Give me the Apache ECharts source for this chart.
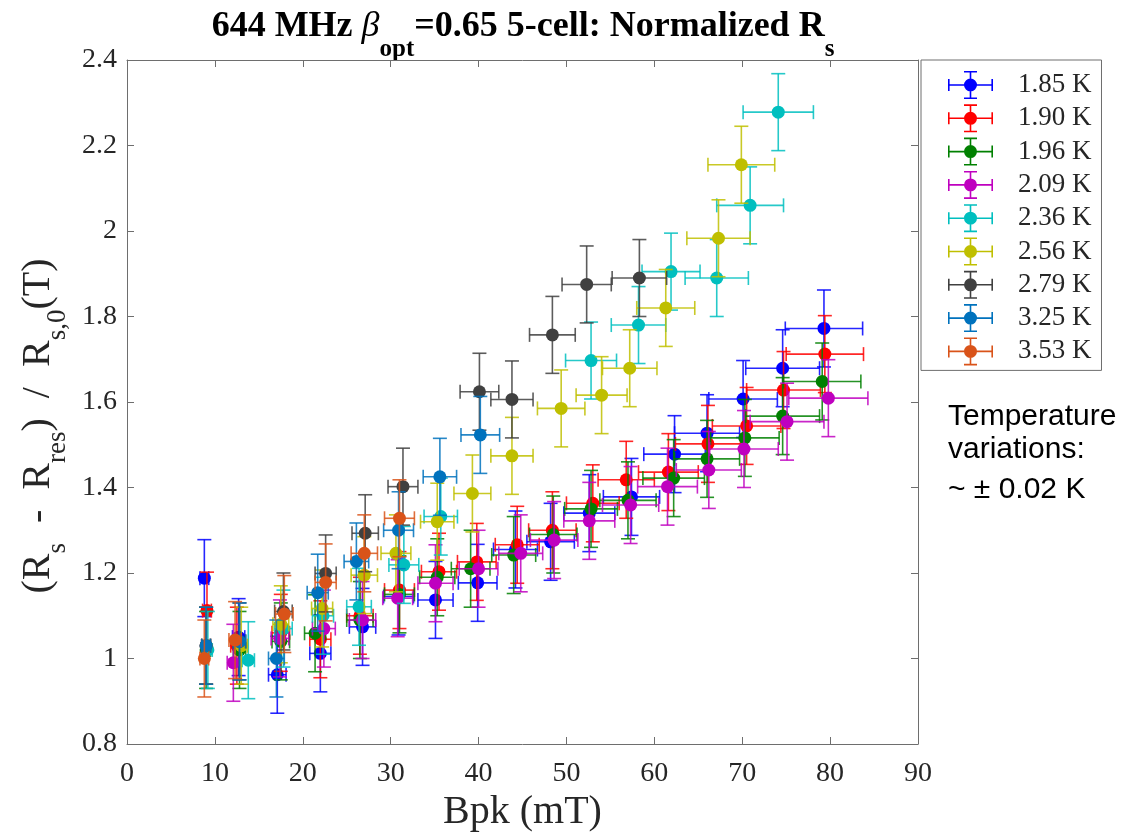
<!DOCTYPE html>
<html>
<head>
<meta charset="utf-8">
<script src="https://cdn.jsdelivr.net/npm/echarts@6/dist/echarts.min.js"></script>
<style>
html,body{margin:0;padding:0;background:#ffffff;}
#chart{width:1124px;height:835px;}
</style>
</head>
<body>
<div id="chart"></div>
<script>
// ---- tick labels / categories ----
const TEMPS = ['1.85 K','1.90 K','1.96 K','2.09 K','2.36 K','2.56 K','2.79 K','3.25 K','3.53 K'];
const X_TICKS = [0,10,20,30,40,50,60,70,80,90];
const Y_TICKS = [0.8,1,1.2,1.4,1.6,1.8,2,2.2,2.4];

// ---- data: Bpk (mT), normalized Rs, Bpk half-error (mT) ----
const bpk185 = [8.8,12.7,17.1,22.0,26.8,30.9,35.1,39.9,44.2,48.2,52.6,57.4,62.3,66.0,70.1,74.6,79.3];
const rs185  = [1.188,1.05,0.962,1.012,1.074,1.145,1.137,1.177,1.255,1.273,1.340,1.378,1.478,1.527,1.607,1.679,1.772];
const dB185  = [0.5,0.7,1.0,1.2,1.5,1.7,2.0,2.2,2.5,2.7,2.9,3.2,3.5,3.7,3.9,4.2,4.4];

const bpk190 = [9.1,12.5,17.5,22.0,26.5,31.0,35.5,39.8,44.4,48.4,53.0,56.8,61.6,66.1,70.5,74.7,79.4];
const rs190  = [1.112,1.03,1.06,1.045,1.10,1.160,1.203,1.226,1.266,1.300,1.363,1.418,1.436,1.502,1.544,1.628,1.712];
const dB190  = [0.5,0.7,1.0,1.2,1.5,1.7,2.0,2.2,2.5,2.7,3.0,3.2,3.4,3.7,3.9,4.2,4.4];

const bpk196 = [9.0,12.8,17.5,21.4,26.5,31.0,35.3,39.1,44.0,48.5,52.8,57.0,62.2,66.0,70.3,74.6,79.1];
const rs196  = [1.02,1.02,1.04,1.059,1.09,1.150,1.190,1.210,1.242,1.290,1.350,1.370,1.422,1.467,1.516,1.567,1.648];
const dB196  = [0.5,0.7,1.0,1.2,1.5,1.7,2.0,2.2,2.5,2.7,3.0,3.2,3.5,3.7,3.9,4.2,4.4];

const bpk209 = [9.0,12.1,17.4,22.4,26.8,30.8,35.1,40.0,44.8,48.6,52.6,57.3,61.5,66.2,70.2,75.1,79.8];
const rs209  = [1.03,0.99,1.047,1.07,1.09,1.141,1.176,1.210,1.246,1.277,1.322,1.359,1.402,1.441,1.490,1.554,1.609];
const dB209  = [0.5,0.7,1.0,1.3,1.5,1.7,2.0,2.2,2.5,2.7,2.9,3.2,3.4,3.7,3.9,4.2,4.5];

const bpk236 = [9.2,13.8,17.8,22.3,26.4,31.5,35.7,52.8,58.2,61.9,67.1,70.9,74.1];
const rs236  = [1.02,0.996,1.07,1.10,1.121,1.219,1.332,1.697,1.780,1.905,1.890,2.060,2.278];
const dB236  = [0.5,0.7,1.0,1.2,1.4,1.7,1.9,2.9,3.1,3.3,3.6,3.8,4.0];

const bpk256 = [9.0,13.0,17.5,22.2,27.0,30.6,35.3,39.3,43.8,49.4,54.0,57.2,61.3,67.3,69.9];
const rs256  = [1.03,1.03,1.08,1.117,1.195,1.246,1.320,1.386,1.474,1.585,1.616,1.679,1.820,1.983,2.155];
const dB256  = [0.5,0.7,0.9,1.2,1.5,1.7,1.9,2.1,2.4,2.7,2.9,3.1,3.3,3.6,3.8];

const bpk279 = [9.0,12.8,17.8,22.6,27.1,31.4,40.1,43.8,48.4,52.3,58.3];
const rs279  = [1.03,1.04,1.11,1.199,1.293,1.402,1.624,1.606,1.757,1.875,1.890];
const dB279  = [0.5,0.7,1.0,1.2,1.5,1.7,2.2,2.4,2.6,2.8,3.1];

const bpk325 = [9.0,12.8,17.0,21.7,26.1,30.9,35.6,40.2];
const rs325  = [1.03,1.04,1.00,1.154,1.227,1.300,1.425,1.523];
const dB325  = [0.5,0.7,0.9,1.2,1.4,1.7,1.9,2.2];

const bpk353 = [8.8,12.3,17.9,22.6,27.0,31.0];
const rs353  = [1.000,1.043,1.104,1.178,1.246,1.328];
const dB353  = [0.5,0.7,1.0,1.2,1.5,1.7];

// half-height of the Rs error bars, per temperature
const dRs = [0.09,0.09,0.09,0.09,0.09,0.09,0.09,0.09,0.09];

const BPK = [bpk185,bpk190,bpk196,bpk209,bpk236,bpk256,bpk279,bpk325,bpk353];
const RS  = [rs185,rs190,rs196,rs209,rs236,rs256,rs279,rs325,rs353];
const DB  = [dB185,dB190,dB196,dB209,dB236,dB256,dB279,dB325,dB353];

// ---- style ----
const COLORS = ['#0000FF','#FF0000','#008000','#BF00BF','#00BFBF','#BFBF00','#404040','#0072BD','#D95319'];
const SERIF = '"Liberation Serif","Times New Roman",serif';
const SANS = '"Liberation Sans",Arial,sans-serif';
const AXIS_COLOR = '#6e6e6e';
const TEXT_COLOR = '#262626';

// legend icon: errorbar cross with caps and a dot (spacer point at right)
const ICON = 'path://' +
  'M0 13.2H45V14.8H0Z' +
  'M0 8H1.6V20H0Z' +
  'M43.4 8H45V20H43.4Z' +
  'M21.7 0H23.3V28H21.7Z' +
  'M16 0H29V1.6H16Z' +
  'M16 26.4H29V28H16Z' +
  'M22.5 7.5A6.5 6.5 0 1 1 22.49 7.5Z' +
  'M65 14L65 14Z';

function renderItem(params, api) {
  const x = api.value(0), y = api.value(1), ex = api.value(2), ey = api.value(3);
  const c = api.coord([x, y]);
  const l = api.coord([x - ex, y]);
  const r = api.coord([x + ex, y]);
  const t = api.coord([x, y + ey]);
  const b = api.coord([x, y - ey]);
  const color = api.visual('color');
  const cap = 7;
  const ls = {stroke: color, lineWidth: 1.6, opacity: 0.85};
  return {
    type: 'group',
    children: [
      {type:'line', shape:{x1:l[0], y1:c[1], x2:r[0], y2:c[1]}, style: ls},
      {type:'line', shape:{x1:l[0], y1:c[1]-cap, x2:l[0], y2:c[1]+cap}, style: ls},
      {type:'line', shape:{x1:r[0], y1:c[1]-cap, x2:r[0], y2:c[1]+cap}, style: ls},
      {type:'line', shape:{x1:c[0], y1:t[1], x2:c[0], y2:b[1]}, style: ls},
      {type:'line', shape:{x1:c[0]-cap, y1:t[1], x2:c[0]+cap, y2:t[1]}, style: ls},
      {type:'line', shape:{x1:c[0]-cap, y1:b[1], x2:c[0]+cap, y2:b[1]}, style: ls},
      {type:'circle', shape:{cx:c[0], cy:c[1], r:6.5}, style:{fill: color}}
    ]
  };
}

const series = TEMPS.map((name, i) => ({
  name: name,
  type: 'custom',
  renderItem: renderItem,
  itemStyle: {color: COLORS[i]},
  encode: {x: 0, y: 1},
  data: BPK[i].map((bx, j) => [bx, RS[i][j], DB[i][j], dRs[i]])
}));

const chart = echarts.init(document.getElementById('chart'), null, {renderer: 'canvas'});
chart.setOption({
  animation: false,
  backgroundColor: '#ffffff',
  grid: {left: 127, top: 60, right: 206, bottom: 91, containLabel: false, outerBoundsMode: 'none'},
  xAxis: [{
    type: 'value', position: 'bottom',
    min: X_TICKS[0], max: X_TICKS[X_TICKS.length-1], interval: 10,
    axisLine: {show: true, onZero: false, lineStyle: {color: AXIS_COLOR, width: 1}},
    axisTick: {show: true, inside: true, length: 7, lineStyle: {color: AXIS_COLOR}},
    axisLabel: {fontFamily: SERIF, fontSize: 28, color: TEXT_COLOR, margin: 16},
    splitLine: {show: false},
    name: 'Bpk (mT)', nameLocation: 'middle', nameGap: 46,
    nameTextStyle: {fontFamily: SERIF, fontSize: 40, color: TEXT_COLOR}
  }, {
    type: 'value', position: 'top',
    min: X_TICKS[0], max: X_TICKS[X_TICKS.length-1], interval: 10,
    axisLine: {show: true, onZero: false, lineStyle: {color: AXIS_COLOR, width: 1}},
    axisTick: {show: true, inside: true, length: 7, lineStyle: {color: AXIS_COLOR}},
    axisLabel: {show: false}, splitLine: {show: false}
  }],
  yAxis: [{
    type: 'value', position: 'left',
    min: Y_TICKS[0], max: Y_TICKS[Y_TICKS.length-1], interval: 0.2,
    axisLine: {show: true, onZero: false, lineStyle: {color: AXIS_COLOR, width: 1}},
    axisTick: {show: true, inside: true, length: 7, lineStyle: {color: AXIS_COLOR}},
    axisLabel: {fontFamily: SERIF, fontSize: 28, color: TEXT_COLOR, margin: 10,
      formatter: v => String(+v.toFixed(1))},
    splitLine: {show: false}
  }, {
    type: 'value', position: 'right',
    min: Y_TICKS[0], max: Y_TICKS[Y_TICKS.length-1], interval: 0.2,
    axisLine: {show: true, onZero: false, lineStyle: {color: AXIS_COLOR, width: 1}},
    axisTick: {show: true, inside: true, length: 7, lineStyle: {color: AXIS_COLOR}},
    axisLabel: {show: false}, splitLine: {show: false}
  }],
  legend: {
    orient: 'vertical', left: 921, top: 60,
    padding: [11, 10, 5, 27],
    itemWidth: 65, itemHeight: 28, itemGap: 5.3,
    icon: ICON,
    selectedMode: false,
    borderColor: '#6e6e6e', borderWidth: 1, backgroundColor: '#ffffff',
    itemStyle: {borderWidth: 0},
    textStyle: {fontFamily: SERIF, fontSize: 27, color: TEXT_COLOR},
    data: TEMPS
  },
  graphic: [{
    type: 'text', x: 523, y: -8,
    style: {
      text: '{m|644 MHz }{b|β}{s|opt}{m|=0.65 5-cell: Normalized R}{s|s}',
      align: 'center', textAlign: 'center', verticalAlign: 'top', textVerticalAlign: 'top',
      rich: {
        m: {fontFamily: SERIF, fontSize: 36, fontWeight: 'bold', fill: '#000', lineHeight: 70, verticalAlign: 'middle'},
        b: {fontFamily: SERIF, fontSize: 36, fontStyle: 'italic', fill: '#000', lineHeight: 70, verticalAlign: 'middle'},
        s: {fontFamily: SERIF, fontSize: 25, fontWeight: 'bold', fill: '#000', lineHeight: 25, verticalAlign: 'bottom'}
      }
    }
  }, {
    type: 'text', x: 38, y: 426, rotation: Math.PI / 2,
    style: {
      text: '{m|(R}{s|s}{m|  -  R}{s|res}{m|)  /  R}{s|s,0}{m|(T)}',
      align: 'center', textAlign: 'center', verticalAlign: 'middle', textVerticalAlign: 'middle',
      rich: {
        m: {fontFamily: SERIF, fontSize: 40, fill: TEXT_COLOR, lineHeight: 66, verticalAlign: 'middle'},
        s: {fontFamily: SERIF, fontSize: 27, fill: TEXT_COLOR, lineHeight: 27, verticalAlign: 'bottom'}
      }
    }
  }, {
    type: 'text', x: 948, y: 417,
    style: {text: 'Temperature', font: '30px ' + SANS, fill: '#000', verticalAlign: 'middle', textVerticalAlign: 'middle'}
  }, {
    type: 'text', x: 948, y: 450,
    style: {text: 'variations:', font: '30px ' + SANS, fill: '#000', verticalAlign: 'middle', textVerticalAlign: 'middle'}
  }, {
    type: 'text', x: 948, y: 490,
    style: {text: '~ ± 0.02 K', font: '30px ' + SANS, fill: '#000', verticalAlign: 'middle', textVerticalAlign: 'middle'}
  }],
  series: series
});
</script>
</body>
</html>
